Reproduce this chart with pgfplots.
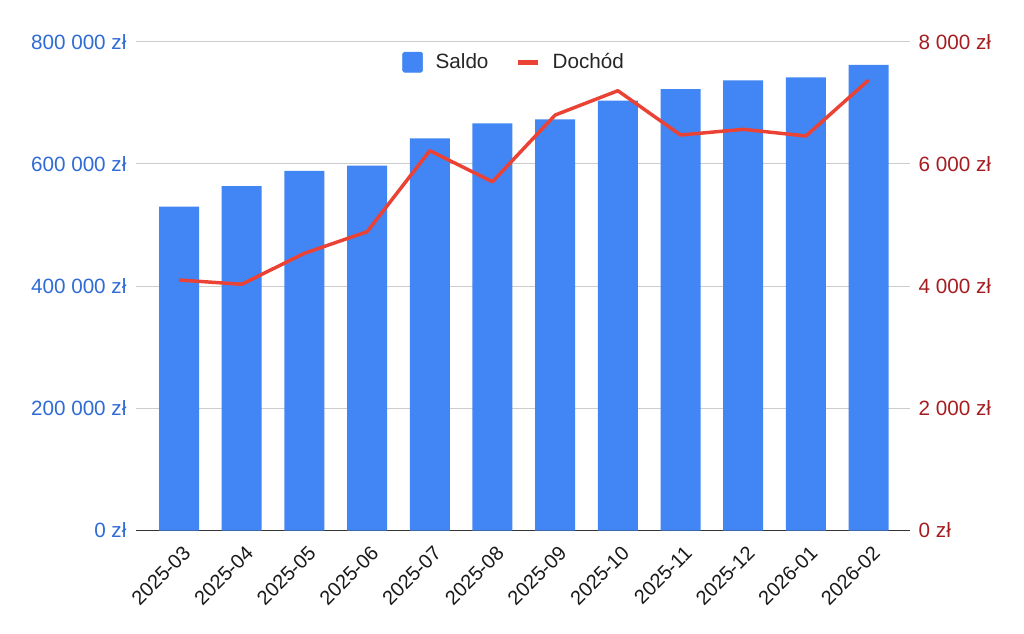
\documentclass[border=0pt]{standalone}
\usepackage{pgfplots}
\pgfplotsset{compat=1.18}
\usepackage{fontspec}
\setmainfont{Liberation Sans}
\definecolor{barblue}{HTML}{4285F4}
\definecolor{linered}{HTML}{EA4335}
\definecolor{lefttick}{HTML}{2F6BD6}
\definecolor{righttick}{HTML}{A51D21}
\definecolor{gridgray}{HTML}{CCCCCC}
\definecolor{axisdark}{HTML}{333333}
\newcommand{\lbl}{\fontsize{15.5}{18}\selectfont}
\newcommand{\xlbl}{\fontsize{15}{18}\selectfont}
\begin{document}
\begin{tikzpicture}
\path[use as bounding box] (-102pt,-76.875pt) rectangle (666pt,397.875pt);
\begin{axis}[
  at={(0,0)}, anchor=south west,
  scale only axis, width=580.5pt, height=366.6pt,
  xmin=-0.686, xmax=11.66, ymin=0, ymax=800000,
  axis x line=bottom, axis y line=left,
  axis line style={-},
  y axis line style={draw=none},
  x axis line style={draw=axisdark, line width=0.9pt},
  tick style={draw=none},
  ymajorgrids, grid style={gridgray, line width=0.8pt},
  ytick={0,200000,400000,600000,800000},
  yticklabels={0 zł, 200 000 zł, 400 000 zł, 600 000 zł, 800 000 zł},
  yticklabel style={font=\lbl, text=lefttick, xshift=-1.5pt},
  xtick={0,...,11},
  xticklabels={2025-03,2025-04,2025-05,2025-06,2025-07,2025-08,2025-09,2025-10,2025-11,2025-12,2026-01,2026-02},
  xticklabel style={font=\xlbl, text=black!90, rotate=45, anchor=north east, xshift=-1pt, yshift=-4pt},
  scaled y ticks=false,
]
\addplot[ybar, bar width=30pt, bar shift=0pt, fill=barblue, draw=none] coordinates {
(0,530000) (1,563800) (2,588400) (3,597000) (4,641900) (5,666400)
(6,673000) (7,703400) (8,722600) (9,736800) (10,741700) (11,761900)};
\end{axis}
\begin{axis}[
  at={(0,0)}, anchor=south west,
  scale only axis, width=580.5pt, height=366.6pt,
  xmin=-0.686, xmax=11.66, ymin=0, ymax=8000,
  axis y line*=right, axis x line=none,
  axis line style={-},
  y axis line style={draw=none},
  tick style={draw=none},
  ytick={0,2000,4000,6000,8000},
  yticklabels={0 zł, 2 000 zł, 4 000 zł, 6 000 zł, 8 000 zł},
  yticklabel style={font=\lbl, text=righttick, xshift=3pt},
  scaled y ticks=false,
  legend columns=2,
  legend style={at={(0.489,0.958)}, anchor=center, draw=none, fill=none,
    font=\lbl, text=black!85,
    /tikz/every odd column/.append style={column sep=7.5pt},
    /tikz/every even column/.append style={column sep=18pt}},
]
\addlegendimage{legend image code/.code={\fill[barblue, rounded corners=1.2pt] (0pt,-7.5pt) rectangle (15pt,7.5pt);}}
\addlegendentry{Saldo}
\addplot[linered, line width=2.6pt, line join=round,
  legend image code/.code={\draw[linered, line width=3.6pt] (0pt,0pt) -- (15pt,0pt);}] coordinates {
(0,4100) (1,4030) (2,4537) (3,4890) (4,6216) (5,5709)
(6,6800) (7,7198) (8,6473) (9,6566) (10,6457) (11,7373)};
\addlegendentry{Dochód}
\end{axis}
\end{tikzpicture}
\end{document}
